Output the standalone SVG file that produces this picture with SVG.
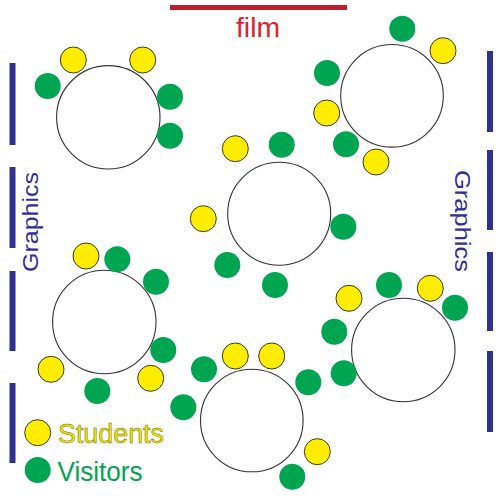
<svg xmlns="http://www.w3.org/2000/svg" width="500" height="500" viewBox="0 0 500 500">
<style>
.table{fill:#fff;stroke:#333;stroke-width:1.1}
.s{fill:#ffed00;stroke:#3a3a1a;stroke-width:1}
.v{fill:#00a551}
.bar{stroke:#2e3192;stroke-width:6}
.gr{font-family:"Liberation Sans",Arial,sans-serif;font-size:22px;fill:#2e3192}
.leg{font-family:"Liberation Sans",Arial,sans-serif;font-size:27px}
</style>
<rect width="500" height="500" fill="#fff"/>
<g id="film">
<line x1="170" y1="7.5" x2="347" y2="7.5" stroke="#be1e2d" stroke-width="5"/>
<text x="258" y="36.5" text-anchor="middle" font-family="'Liberation Sans',Arial,sans-serif" font-size="27" fill="#e0202c" textLength="44" lengthAdjust="spacingAndGlyphs">film</text>
</g>
<g id="walls-left">
<line class="bar" x1="12.5" y1="63" x2="12.5" y2="145"/>
<line class="bar" x1="12.5" y1="167" x2="12.5" y2="248"/>
<line class="bar" x1="12.5" y1="271" x2="12.5" y2="351"/>
<line class="bar" x1="12.5" y1="383" x2="12.5" y2="463"/>
<text class="gr" transform="translate(38,272) rotate(-90)" textLength="100" lengthAdjust="spacingAndGlyphs">Graphics</text>
</g>
<g id="walls-right">
<line class="bar" x1="490" y1="51" x2="490" y2="132"/>
<line class="bar" x1="490" y1="150" x2="490" y2="230"/>
<line class="bar" x1="490" y1="252" x2="490" y2="331"/>
<line class="bar" x1="490" y1="351" x2="490" y2="432"/>
<text class="gr" transform="translate(454.5,170) rotate(90)" textLength="102" lengthAdjust="spacingAndGlyphs">Graphics</text>
</g>
<g id="table-1">
<circle class="table" cx="108.3" cy="117.3" r="51.7"/>
<circle class="s" cx="73.3" cy="60" r="13"/>
<circle class="s" cx="142.7" cy="60" r="13"/>
<circle class="v" cx="47.7" cy="86" r="13"/>
<circle class="v" cx="170" cy="96.7" r="13"/>
<circle class="v" cx="170" cy="135.7" r="13"/>
</g>
<g id="table-2">
<circle class="table" cx="392" cy="95.8" r="51.3"/>
<circle class="v" cx="402.3" cy="28.7" r="13"/>
<circle class="v" cx="327" cy="73" r="13"/>
<circle class="v" cx="346" cy="144.3" r="13"/>
<circle class="s" cx="443" cy="50.7" r="13"/>
<circle class="s" cx="326.7" cy="113" r="13"/>
<circle class="s" cx="376" cy="162" r="13"/>
</g>
<g id="table-3">
<circle class="table" cx="279.2" cy="213.8" r="51.5"/>
<circle class="s" cx="235.3" cy="148.7" r="13"/>
<circle class="s" cx="203.3" cy="218.7" r="13"/>
<circle class="v" cx="281.7" cy="144.7" r="13"/>
<circle class="v" cx="343.3" cy="226.7" r="13"/>
<circle class="v" cx="227.3" cy="265" r="13"/>
<circle class="v" cx="275" cy="285" r="13"/>
</g>
<g id="table-4">
<circle class="table" cx="104.3" cy="322" r="51.7"/>
<circle class="s" cx="86" cy="256" r="13"/>
<circle class="s" cx="51" cy="369.3" r="13"/>
<circle class="s" cx="150.7" cy="378.3" r="13"/>
<circle class="v" cx="117.3" cy="259.3" r="13"/>
<circle class="v" cx="156" cy="281.7" r="13"/>
<circle class="v" cx="163.3" cy="350" r="13"/>
<circle class="v" cx="97.3" cy="391" r="13"/>
</g>
<g id="table-5">
<circle class="table" cx="251.8" cy="420.5" r="51.3"/>
<circle class="s" cx="235.3" cy="356" r="13"/>
<circle class="s" cx="271.7" cy="356" r="13"/>
<circle class="s" cx="317.3" cy="451.7" r="13"/>
<circle class="v" cx="204" cy="369.3" r="13"/>
<circle class="v" cx="183.3" cy="407.3" r="13"/>
<circle class="v" cx="308.3" cy="382.3" r="13"/>
<circle class="v" cx="292.3" cy="476.7" r="13"/>
</g>
<g id="table-6">
<circle class="table" cx="403.3" cy="350" r="51.7"/>
<circle class="s" cx="349" cy="298.3" r="13"/>
<circle class="s" cx="430.3" cy="288.3" r="13"/>
<circle class="v" cx="389" cy="285" r="13"/>
<circle class="v" cx="455" cy="307.7" r="13"/>
<circle class="v" cx="334.3" cy="331.7" r="13"/>
<circle class="v" cx="343.7" cy="373.3" r="13"/>
</g>
<g id="legend">
<circle class="s" cx="37.7" cy="432.7" r="13"/>
<text class="leg" x="58" y="443.3" fill="#f2e500" stroke="#6b6a10" stroke-width="0.5" textLength="106" lengthAdjust="spacingAndGlyphs">Students</text>
<circle class="v" cx="37.7" cy="470" r="13"/>
<text class="leg" x="57.5" y="480.5" fill="#00a551" textLength="85" lengthAdjust="spacingAndGlyphs">Visitors</text>
</g>
</svg>
